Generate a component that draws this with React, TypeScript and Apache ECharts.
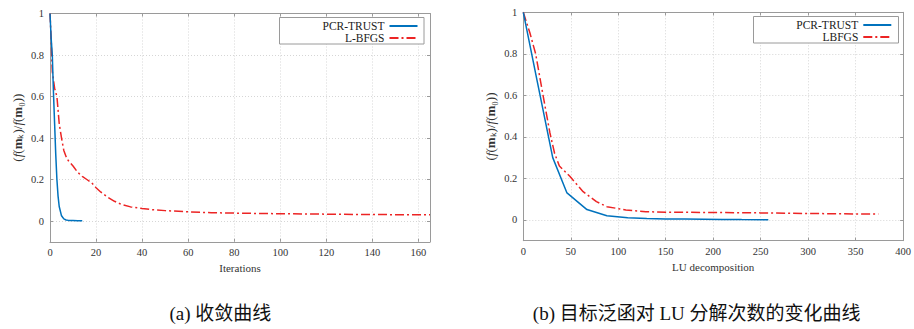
import React, { useEffect, useRef } from 'react';
import * as echarts from 'echarts';

// ---- data ----
const pcrIterX = [0, 0.5, 1, 1.5, 2, 2.5, 3, 3.5, 4, 5, 6, 7, 8, 10, 12, 14];
const pcrIterY = [1, 0.88, 0.8, 0.62, 0.47, 0.32, 0.2, 0.12, 0.07, 0.025, 0.01, 0.005, 0.003, 0.002, 0.001, 0.001];

const lbfgsIterX = [0, 0.5, 1, 2, 3, 4, 5, 6, 7, 8, 10, 12, 14, 16, 18, 20, 22, 25, 28, 31, 35, 40, 45, 50, 60, 70, 80, 100, 120, 140, 165];
const lbfgsIterY = [1, 0.88, 0.72, 0.64, 0.6, 0.47, 0.4, 0.34, 0.31, 0.29, 0.265, 0.235, 0.215, 0.2, 0.185, 0.16, 0.14, 0.115, 0.095, 0.08, 0.068, 0.06, 0.054, 0.05, 0.044, 0.04, 0.038, 0.035, 0.033, 0.031, 0.03];

const pcrLuX = [0, 15, 31, 46, 67, 88, 110, 130, 150, 170, 190, 210, 230, 258];
const pcrLuY = [1, 0.66, 0.3, 0.13, 0.05, 0.02, 0.01, 0.007, 0.005, 0.004, 0.003, 0.002, 0.0015, 0.001];

const lbfgsLuX = [0, 7, 13, 20, 28, 33, 38, 49, 63, 77, 88, 108, 129, 150, 200, 250, 300, 374];
const lbfgsLuY = [1, 0.9, 0.8, 0.62, 0.42, 0.32, 0.26, 0.21, 0.136, 0.088, 0.064, 0.048, 0.04, 0.037, 0.036, 0.034, 0.031, 0.028];

const yTicks = [0, 0.2, 0.4, 0.6, 0.8, 1];
const iterTicks = [0, 20, 40, 60, 80, 100, 120, 140, 160];
const luTicks = [0, 50, 100, 150, 200, 250, 300, 350, 400];

const names = { pcr: 'PCR-TRUST', lbfgsA: 'L-BFGS', lbfgsB: 'LBFGS' };
const axisNames = { iter: 'Iterations', lu: 'LU decomposition' };
const captions = ['(a) 收敛曲线', '(b) 目标泛函对 LU 分解次数的变化曲线'];

const zip = (xs: number[], ys: number[]) => xs.map((x, i) => [x, ys[i]]);

const SERIF = 'Liberation Serif';
const FRAME = '#9a9a9a';
const BLUE = '#0072bd';
const RED = '#ec2424';

function xAxes(gridIndex: number, max: number, ticks: number[], name: string) {
  return [
    {
      type: 'value', gridIndex, position: 'bottom', min: 0, max,
      axisLine: { show: true, onZero: false, lineStyle: { color: FRAME, width: 1 } },
      axisTick: { show: true, inside: true, length: 3, customValues: ticks, lineStyle: { color: FRAME } },
      axisLabel: { show: true, customValues: ticks, margin: 5, fontFamily: SERIF, fontSize: 10.5, color: '#333' },
      splitLine: { show: true, lineStyle: { color: '#d6d6d6', type: [1, 2], width: 1 } },
      name, nameLocation: 'middle', nameGap: 19,
      nameTextStyle: { fontFamily: SERIF, fontSize: 11, color: '#333' },
    },
    {
      type: 'value', gridIndex, position: 'top', min: 0, max,
      axisLine: { show: true, onZero: false, lineStyle: { color: FRAME, width: 1 } },
      axisTick: { show: true, inside: true, length: 3, customValues: ticks, lineStyle: { color: FRAME } },
      axisLabel: { show: false },
      splitLine: { show: false },
    },
  ];
}

const yName = '({i|f}({b|m}ₖ)/{i|f}({b|m}₀))';

function yAxes(gridIndex: number) {
  return [
    {
      type: 'value', gridIndex, position: 'left', min: -0.1, max: 1,
      axisLine: { show: true, onZero: false, lineStyle: { color: FRAME, width: 1 } },
      axisTick: { show: true, inside: true, length: 3, customValues: yTicks, lineStyle: { color: FRAME } },
      axisLabel: { show: true, customValues: yTicks, margin: 6, fontFamily: SERIF, fontSize: 10.5, color: '#333' },
      splitLine: { show: true, lineStyle: { color: '#d6d6d6', type: [1, 2], width: 1 } },
      name: yName, nameLocation: 'middle', nameGap: 26,
      nameTextStyle: {
        fontFamily: SERIF, fontSize: 13, color: '#333',
        rich: {
          i: { fontFamily: SERIF, fontSize: 13, fontStyle: 'italic', color: '#333' },
          b: { fontFamily: SERIF, fontSize: 13, fontWeight: 'bold', color: '#333' },
        },
      },
    },
    {
      type: 'value', gridIndex, position: 'right', min: -0.1, max: 1,
      axisLine: { show: true, onZero: false, lineStyle: { color: FRAME, width: 1 } },
      axisTick: { show: true, inside: true, length: 3, customValues: yTicks, lineStyle: { color: FRAME } },
      axisLabel: { show: false },
      splitLine: { show: false },
    },
  ];
}

function lineSeries(name: string, data: number[][], xAxisIndex: number, yAxisIndex: number, color: string, dashed: boolean) {
  return {
    type: 'line', name, data, xAxisIndex, yAxisIndex,
    symbol: 'none', showSymbol: false, z: 2,
    lineStyle: { color, width: 1.5, type: dashed ? [9, 3, 2, 3] : 'solid' },
    itemStyle: { color },
  };
}

export default function App() {
  const ref = useRef<HTMLDivElement>(null);
  useEffect(() => {
    document.body.style.margin = '0';
    if (!ref.current) return;
    const chart = echarts.init(ref.current, null, { renderer: 'svg' });
    const legendCommon = {
      orient: 'vertical', align: 'right', itemWidth: 28, itemHeight: 10, itemGap: 0, padding: 0,
      textStyle: { fontFamily: SERIF, fontSize: 11.5, color: '#222' }, z: 5, selectedMode: false,
      itemStyle: { opacity: 0, borderWidth: 0 },
    };
    chart.setOption({
      animation: false,
      backgroundColor: '#ffffff',
      grid: [
        { left: 50, top: 13.5, width: 380, height: 228.25 },
        { left: 523.3, top: 12.3, width: 381, height: 228.4 },
      ],
      xAxis: [...xAxes(0, 165, iterTicks, axisNames.iter), ...xAxes(1, 400, luTicks, axisNames.lu)],
      yAxis: [...yAxes(0), ...yAxes(1)],
      legend: [
        { ...legendCommon, data: [names.pcr, names.lbfgsA], right: 495.5, top: 20 },
        { ...legendCommon, data: [names.pcr, names.lbfgsB], right: 21.7, top: 19 },
      ],
      graphic: [
        { type: 'rect', z: 3, shape: { x: 279.5, y: 17.5, width: 144.5, height: 26.5 }, style: { fill: '#fff', stroke: FRAME, lineWidth: 1 } },
        { type: 'rect', z: 3, shape: { x: 753.5, y: 16.5, width: 145, height: 26.5 }, style: { fill: '#fff', stroke: FRAME, lineWidth: 1 } },
        { type: 'text', x: 220.3, y: 313, style: { text: captions[0], textAlign: 'center', textVerticalAlign: 'middle', font: '19px "Liberation Serif", "Noto Sans CJK SC", serif', fill: '#111' } },
        { type: 'text', x: 696.7, y: 313, style: { text: captions[1], textAlign: 'center', textVerticalAlign: 'middle', font: '19px "Liberation Serif", "Noto Sans CJK SC", serif', fill: '#111' } },
      ],
      series: [
        lineSeries(names.lbfgsA, zip(lbfgsIterX, lbfgsIterY), 0, 0, RED, true),
        lineSeries(names.pcr, zip(pcrIterX, pcrIterY), 0, 0, BLUE, false),
        lineSeries(names.lbfgsB, zip(lbfgsLuX, lbfgsLuY), 2, 2, RED, true),
        lineSeries(names.pcr, zip(pcrLuX, pcrLuY), 2, 2, BLUE, false),
      ],
    });
    return () => chart.dispose();
  }, []);
  return <div ref={ref} style={{ width: 914, height: 329 }} />;
}
